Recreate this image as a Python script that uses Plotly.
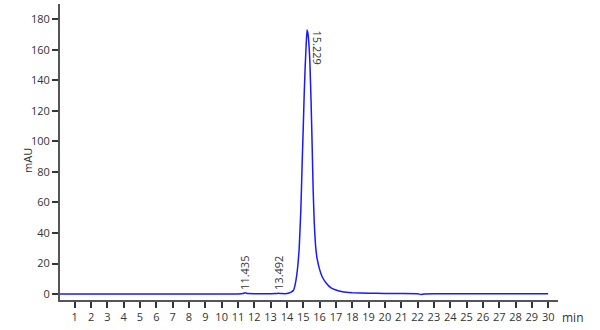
import plotly.graph_objects as go

# Chromatogram readings (retention time in min, absorbance in mAU)
time_min = [
    0.1, 2.0, 4.0, 6.0, 8.0, 10.0, 11.0, 11.3, 11.435, 11.6, 12.0, 13.0, 13.35, 13.492, 13.65,
    14.0, 14.25, 14.4, 14.52, 14.66, 14.75, 14.85, 14.93, 15.0, 15.06, 15.12, 15.18,
    15.229, 15.28, 15.35, 15.4, 15.48, 15.55, 15.6, 15.67, 15.75, 15.85, 15.99,
    16.15, 16.4, 16.7, 17.0, 17.4, 18.0, 19.0, 20.0, 21.0, 22.0, 22.2, 22.4, 23.0,
    25.0, 27.0, 29.0, 30.0,
]
absorbance = [
    0.0, 0.0, 0.0, 0.0, 0.0, 0.0, 0.1, 0.3, 0.8, 0.3, 0.2, 0.2, 0.3, 0.5, 0.3,
    0.3, 1.2, 2.5, 7.2, 17.9, 30.0, 55.0, 85.0, 110.0, 132.0, 150.0, 164.0,
    173.0, 171.0, 163.0, 153.0, 125.0, 94.0, 70.0, 47.0, 32.0, 23.0, 16.5,
    11.5, 7.2, 4.0, 2.6, 1.5, 0.9, 0.6, 0.4, 0.3, 0.2, -0.3, 0.1, 0.2,
    0.2, 0.2, 0.2, 0.2,
]

peak_times = [11.435, 13.492, 15.229]
peak_labels = ["11.435", "13.492", "15.229"]
peak_heights = [0.8, 0.5, 173.0]

x_ticks = list(range(1, 31))
y_ticks = list(range(0, 181, 20))

font_family = "Open Sans, Lato, sans-serif"
axis_color = "#2f3640"
text_color = "#333333"

fig = go.Figure()
fig.add_trace(go.Scatter(
    x=time_min, y=absorbance, mode="lines",
    line=dict(color="#1a1aff", width=1.5, shape="spline", smoothing=0.3),
    hoverinfo="skip", showlegend=False,
))

# peak labels
for t, lab, h in zip(peak_times, peak_labels, peak_heights):
    if h > 100:
        fig.add_annotation(x=t, y=h, text=lab, showarrow=False, textangle=90,
                           xanchor="left", yanchor="top", xshift=1, yshift=2,
                           font=dict(size=11, color=text_color, family=font_family))
    else:
        fig.add_annotation(x=t, y=h, text=lab, showarrow=False, textangle=-90,
                           xanchor="center", yanchor="bottom", yshift=1,
                           font=dict(size=11, color=text_color, family=font_family))

fig.add_annotation(xref="paper", yref="paper", x=1.0, y=0, xanchor="left", yanchor="top",
                   xshift=2, yshift=-7, text="min", showarrow=False,
                   font=dict(size=12, color=text_color, family=font_family))
fig.add_annotation(xref="paper", yref="paper", x=0, y=0.47, xanchor="center", yanchor="middle",
                   xshift=-32, text="mAU", textangle=-90, showarrow=False,
                   font=dict(size=11, color=text_color, family=font_family))

fig.update_layout(
    width=600, height=330,
    margin=dict(l=60, r=42, t=4, b=30),
    plot_bgcolor="white", paper_bgcolor="white",
    font=dict(family=font_family, size=11, color=text_color),
    xaxis=dict(range=[0.1, 30.6], tickmode="array", tickvals=x_ticks,
               ticktext=[str(v) for v in x_ticks], showgrid=False, zeroline=False,
               showline=True, linecolor="#555555", linewidth=2,
               ticks="outside", ticklen=6, tickwidth=2, tickcolor=axis_color,
               tickfont=dict(size=11, color=text_color)),
    yaxis=dict(range=[-3.9, 190], tickmode="array", tickvals=y_ticks,
               showgrid=False, zeroline=False,
               showline=True, linecolor="#555555", linewidth=2,
               ticks="outside", ticklen=6, tickwidth=2, tickcolor=axis_color,
               tickfont=dict(size=11, color=text_color)),
)

fig.write_html("out.html")
